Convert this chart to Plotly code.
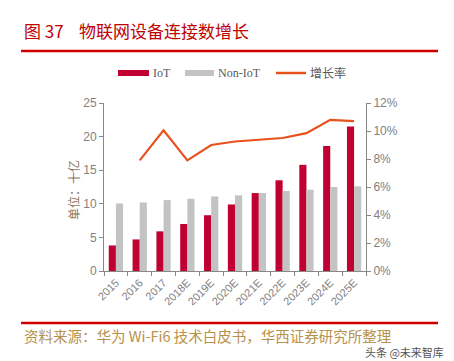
import plotly.graph_objects as go

categories = ["2015", "2016", "2017", "2018E", "2019E", "2020E", "2021E", "2022E", "2023E", "2024E", "2025E"]
iot = [3.8, 4.7, 5.9, 7.0, 8.3, 9.9, 11.6, 13.5, 15.8, 18.6, 21.5]
non_iot = [10.05, 10.2, 10.55, 10.75, 11.1, 11.25, 11.6, 11.9, 12.1, 12.5, 12.6]
growth = [None, 7.9, 10.05, 7.9, 9.0, 9.25, 9.4, 9.5, 9.85, 10.8, 10.7]
left_ticks = [0, 5, 10, 15, 20, 25]
right_ticks = [0, 2, 4, 6, 8, 10, 12]

W, H = 454, 361
L, R, T, B = 104, 88, 103, 90

fig = go.Figure()
fig.add_trace(go.Bar(x=categories, y=iot, name="IoT", marker_color="#C00030",
                     marker_line_width=0))
fig.add_trace(go.Bar(x=categories, y=non_iot, name="Non-IoT", marker_color="#C3C3C3",
                     marker_line_width=0))
fig.add_trace(go.Scatter(x=categories, y=growth, name="增长率", yaxis="y2", mode="lines",
                         line=dict(color="#E8501E", width=2.2)))

tick_font = dict(family="Arial, Liberation Sans, sans-serif", size=12, color="#7f7f7f")

fig.update_layout(
    width=W, height=H,
    margin=dict(l=L, r=R, t=T, b=B, pad=0),
    paper_bgcolor="white", plot_bgcolor="white",
    barmode="group", bargap=0.4, bargroupgap=0.0,
    showlegend=False,
    xaxis=dict(type="category", showline=True, linecolor="#888888", linewidth=1,
               ticks="outside", tickson="boundaries", ticklen=4, tickcolor="#888888",
               tickangle=-45, tickfont=dict(family="Arial, Liberation Sans, sans-serif", size=11, color="#7f7f7f"),
               showgrid=False),
    yaxis=dict(range=[0, 25], tickvals=left_ticks, showline=True, linecolor="#888888",
               ticks="outside", ticklen=4, tickcolor="#888888", showgrid=False,
               tickfont=tick_font, zeroline=False),
    yaxis2=dict(range=[0, 12], tickvals=right_ticks, ticktext=[f"{v}%" for v in right_ticks],
                overlaying="y", side="right", showline=True, linecolor="#888888",
                ticks="outside", ticklen=4, tickcolor="#888888", showgrid=False,
                tickfont=tick_font, zeroline=False),
)

pw = W - L - R
ph = H - T - B
def px(x):
    return (x - L) / pw
def py(y):
    return (H - B - y) / ph

ann = []
ann.append(dict(x=px(22), y=py(30), xref="paper", yref="paper", xanchor="left", yanchor="middle",
                text="图 37&nbsp;&nbsp;&nbsp;&nbsp;物联网设备连接数增长", showarrow=False,
                font=dict(family="Noto Sans CJK SC", size=17, color="#C00000")))
ann.append(dict(x=px(73), y=py(190), xref="paper", yref="paper", xanchor="center", yanchor="middle",
                text="单位：十亿", textangle=-90, showarrow=False,
                font=dict(family="Noto Sans CJK SC", size=12, color="#8a7560")))
ann.append(dict(x=px(22), y=py(335), xref="paper", yref="paper", xanchor="left", yanchor="middle",
                text="资料来源：华为 Wi-Fi6 技术白皮书，华西证券研究所整理", showarrow=False,
                font=dict(family="Noto Sans CJK SC", size=14.5, color="#B8914A")))
ann.append(dict(x=px(446), y=py(352), xref="paper", yref="paper", xanchor="right", yanchor="middle",
                text="头条 @未来智库", showarrow=False,
                font=dict(family="Noto Sans CJK SC", size=11, color="#555555")))

# legend
leg_y = py(73)
items = [("IoT", "#C00030", 118, 149, "bar"), ("Non-IoT", "#C3C3C3", 185, 214, "bar"), ("增长率", "#E8501E", 276, 306, "line")]
shapes = []
for name, col, x0, x1, kind in items:
    if kind == "bar":
        shapes.append(dict(type="rect", xref="paper", yref="paper", x0=px(x0), x1=px(x1),
                           y0=py(76), y1=py(70), fillcolor=col, line_width=0))
    else:
        shapes.append(dict(type="line", xref="paper", yref="paper", x0=px(x0), x1=px(x1),
                           y0=leg_y, y1=leg_y, line=dict(color=col, width=2.5)))
    ann.append(dict(x=px(x1 + 2), y=leg_y, xref="paper", yref="paper", xanchor="left", yanchor="middle",
                    text=name, showarrow=False,
                    font=dict(family="Liberation Serif, Noto Sans CJK SC", size=12, color="#595959")))

shapes.append(dict(type="line", xref="paper", yref="paper", x0=px(21), x1=px(438), y0=py(51), y1=py(51),
                   line=dict(color="#D00000", width=2.5)))
shapes.append(dict(type="line", xref="paper", yref="paper", x0=px(21), x1=px(438), y0=py(323), y1=py(323),
                   line=dict(color="#D00000", width=2.5)))

fig.update_layout(annotations=ann, shapes=shapes)
fig.write_html("out.html", config={"displayModeBar": False},
               post_script="document.body.style.margin='0';")
